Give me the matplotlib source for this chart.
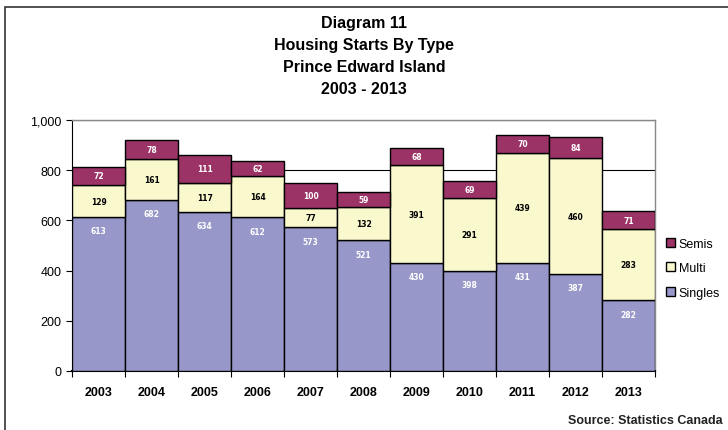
import matplotlib
matplotlib.use("Agg")
import matplotlib.pyplot as plt
from matplotlib.patches import Rectangle
from matplotlib.ticker import FuncFormatter
import numpy as np

years = ["2003", "2004", "2005", "2006", "2007", "2008", "2009", "2010", "2011", "2012", "2013"]
singles = [613, 682, 634, 612, 573, 521, 430, 398, 431, 387, 282]
multi = [129, 161, 117, 164, 77, 132, 391, 291, 439, 460, 283]
semis = [72, 78, 111, 62, 100, 59, 68, 69, 70, 84, 71]

plt.rcParams['font.family'] = ['Liberation Sans', 'DejaVu Sans']

fig = plt.figure(figsize=(7.28, 4.31), dpi=100)
ax = fig.add_axes([0.099, 0.137, 0.801, 0.582])

# frame round the whole figure
fig.patches.append(Rectangle((0.007, -0.1), 1.2, 1.081, transform=fig.transFigure,
                             fill=False, edgecolor="#333333", linewidth=1.2))

x = np.arange(len(years))
singles = np.array(singles)
multi = np.array(multi)
semis = np.array(semis)

c_sing, c_multi, c_semi = "#9797C9", "#FAF8CD", "#9B3366"
b1 = ax.bar(x, singles, width=1.0, color=c_sing, edgecolor="black", linewidth=1.0, label="Singles", zorder=3)
b2 = ax.bar(x, multi, bottom=singles, width=1.0, color=c_multi, edgecolor="black", linewidth=1.0, label="Multi", zorder=3)
b3 = ax.bar(x, semis, bottom=singles + multi, width=1.0, color=c_semi, edgecolor="black", linewidth=1.0, label="Semis", zorder=3)

# value labels
for i in range(len(years)):
    ax.text(x[i], singles[i] - 55, str(singles[i]), ha="center", va="center",
            color="white", fontsize=5.5, fontweight="bold", family="DejaVu Sans", zorder=4)
    ax.text(x[i], singles[i] + multi[i] / 2, str(multi[i]), ha="center", va="center",
            color="black", fontsize=5.5, fontweight="bold", family="DejaVu Sans", zorder=4)
    ax.text(x[i], singles[i] + multi[i] + semis[i] / 2, str(semis[i]), ha="center", va="center",
            color="white", fontsize=5.5, fontweight="bold", family="DejaVu Sans", zorder=4)

ax.set_xlim(-0.5, len(years) - 0.5)
ax.set_ylim(0, 1000)
ax.set_yticks(range(0, 1001, 200))
ax.yaxis.set_major_formatter(FuncFormatter(lambda v, p: f"{int(v):,}"))
ax.grid(axis="y", color="black", linewidth=0.8, zorder=0)

ax.set_xticks(x)
ax.set_xticklabels(years, fontweight="bold", fontsize=9)
ax.set_xticks(np.arange(-0.5, len(years)), minor=True)
ax.tick_params(axis="x", which="major", length=0, pad=11)
ax.tick_params(axis="x", which="minor", length=4, width=0.8)
ax.tick_params(axis="y", labelsize=9, length=4, width=0.8)

for s in ["top", "right"]:
    ax.spines[s].set_color("#888888")
    ax.spines[s].set_linewidth(1.0)
ax.spines["left"].set_color("black")
ax.spines["bottom"].set_color("black")
ax.spines["bottom"].set_linewidth(1.5)

fig.text(0.5, 0.962, "Diagram 11\nHousing Starts By Type\nPrince Edward Island\n2003 - 2013",
         ha="center", va="top", fontsize=11.5, fontweight="bold", linespacing=1.58)

leg = ax.legend(handles=[b3, b2, b1], loc="center left", bbox_to_anchor=(1.01, 0.41),
                frameon=False, fontsize=9, handlelength=0.7, handleheight=0.7,
                handletextpad=0.3, labelspacing=1.0, borderaxespad=0)

fig.text(0.993, 0.01, "Source: Statistics Canada", ha="right", va="bottom",
         fontsize=9, fontweight="bold", color="#222222")

fig.savefig("out.png", dpi=100)
